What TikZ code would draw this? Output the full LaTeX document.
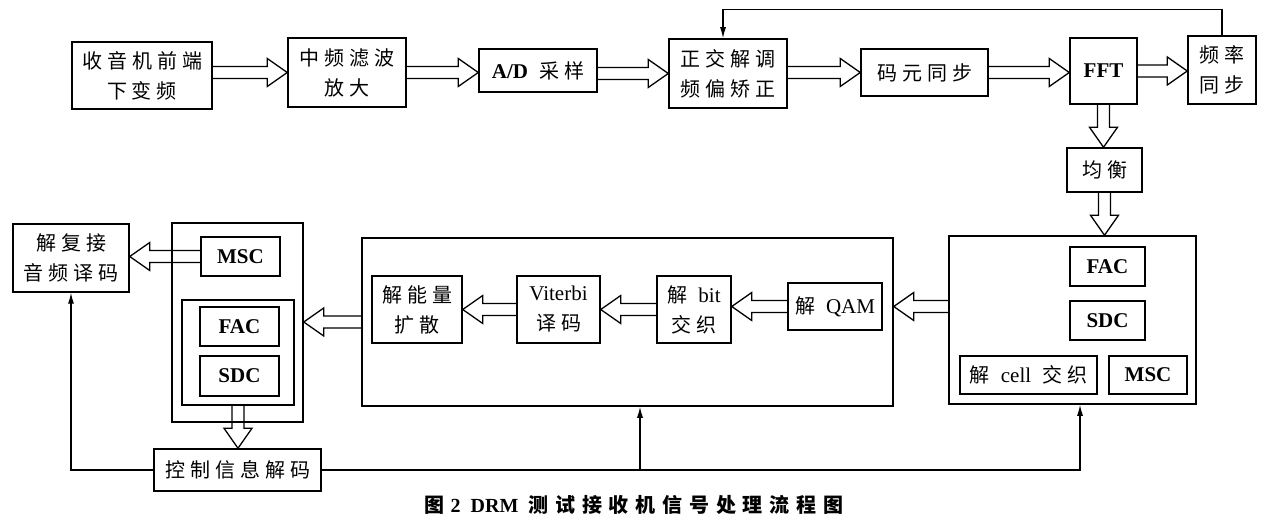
\documentclass[tikz,border=0pt]{standalone}
\usepackage{fontspec}
\setmainfont{Liberation Serif}
\newfontfamily\cjk[LetterSpace=25]{Noto Sans CJK SC}
\newfontfamily\cjkcap[LetterSpace=34]{Noto Sans CJK SC}
\usetikzlibrary{calc,arrows.meta}
\newcommand{\zh}[1]{{\cjk\fontsize{20}{30}\selectfont #1}}
\newcommand{\gap}{\hspace{11pt}}
\newcommand{\blockarrow}[2]{%
  \coordinate (ba-s) at (#1);
  \coordinate (ba-e) at (#2);
  \coordinate (ba-h) at ($(ba-e)!20pt!(ba-s)$);
  \draw[blockarr] ($(ba-s)!6pt!90:(ba-e)$) -- ($(ba-h)!6pt!-90:(ba-s)$)
    -- ($(ba-h)!14pt!-90:(ba-s)$) -- (ba-e) -- ($(ba-h)!14pt!90:(ba-s)$)
    -- ($(ba-h)!6pt!90:(ba-s)$) -- ($(ba-s)!6pt!-90:(ba-e)$);
}
\tikzset{
  box/.style={draw, line width=1.5pt, inner sep=0pt, align=center,
    font=\fontsize{21}{30}\selectfont},
  sz/.style 2 args={minimum width=#1pt, minimum height=#2pt},
  blockarr/.style={line width=1.3pt, line join=miter},
  conn/.style={line width=1.2pt, -{Latex[length=11pt,width=6pt]}},
}
\begin{document}
\begin{tikzpicture}[x=1pt,y=-1pt]
\useasboundingbox (0,0) rectangle (1266,529);
% top row
\node[box, sz={140}{67}] (n1) at (142,75.5) {\zh{收音机前端}\\\zh{下变频}};
\node[box, sz={118}{69}] (n2) at (347,72.5) {\zh{中频滤波}\\\zh{放大}};
\node[box, sz={118}{43}] (n3) at (538,70.5) {\textbf{A/D}\gap\zh{采样}};
\node[box, sz={118}{69}] (n4) at (728,73.5) {\zh{正交解调}\\\zh{频偏矫正}};
\node[box, sz={127}{47}] (n5) at (924.5,72.5) {\zh{码元同步}};
\node[box, sz={67}{66}] (n6) at (1103.5,71) {\textbf{FFT}};
\node[box, sz={68}{68}] (n7) at (1222,70) {\zh{频率}\\\zh{同步}};
\node[box, sz={75}{44}] (n8) at (1104.5,170) {\zh{均衡}};
% right group
\node[box, sz={247}{168}] (R) at (1072.5,320) {};
\node[box, sz={75}{39}] (rfac) at (1107.5,266.5) {\textbf{FAC}};
\node[box, sz={75}{39}] (rsdc) at (1107.5,320.5) {\textbf{SDC}};
\node[box, sz={137}{38}] (rcell) at (1028.5,375) {\zh{解}\gap cell\gap\zh{交织}};
\node[box, sz={78}{38}] (rmsc) at (1148,375) {\textbf{MSC}};
% middle group
\node[box, sz={531}{168}] (M) at (627.5,322) {};
\node[box, sz={90}{67}] (men) at (417,309.5) {\zh{解能量}\\\zh{扩散}};
\node[box, sz={83}{67}] (mvit) at (558.5,309.5) {Viterbi\\\zh{译码}};
\node[box, sz={74}{67}] (mbit) at (694,309.5) {\zh{解}\gap bit\\\zh{交织}};
\node[box, sz={94}{47}] (mqam) at (835,306.5) {\zh{解}\gap QAM};
% left group
\node[box, sz={131}{199}] (lout) at (237.5,322.5) {};
\node[box, sz={79}{39}] (lmsc) at (240.5,256.5) {\textbf{MSC}};
\node[box, sz={112}{105}] (lin) at (238,352.5) {};
\node[box, sz={79}{39}] (lfac) at (239.5,326.5) {\textbf{FAC}};
\node[box, sz={79}{40}] (lsdc) at (239.5,376) {\textbf{SDC}};
\node[box, sz={116}{68}] (fj) at (71,258) {\zh{解复接}\\\zh{音频译码}};
\node[box, sz={167}{42}] (ctrl) at (237.5,470) {\zh{控制信息解码}};
% caption
\node[font=\fontsize{20}{24}\selectfont\bfseries] (cap) at (634,505)
  {{\cjkcap 图}\hspace{6pt}2\hspace{10pt}DRM\hspace{10pt}{\cjkcap 测试接收机信号处理流程图}};
% block arrows
\blockarrow{n1.east |- n2.west}{n2.west}
\blockarrow{n2.east}{n2.east -| n3.west}
\blockarrow{n3.east |- n4.west}{n4.west}
\blockarrow{n4.east |- n5.west}{n5.west}
\blockarrow{n5.east}{n5.east -| n6.west}
\blockarrow{n6.east}{n6.east -| n7.west}
\blockarrow{n6.south}{n6.south |- n8.north}
\blockarrow{n8.south}{n8.south |- R.north}
\blockarrow{R.west |- mqam.east}{M.east |- mqam.east}
\blockarrow{mqam.west}{mqam.west -| mbit.east}
\blockarrow{mbit.west}{mvit.east}
\blockarrow{mvit.west}{men.east}
\blockarrow{M.west}{M.west -| lout.east}
\blockarrow{lmsc.west}{lmsc.west -| fj.east}
\blockarrow{lin.south}{lin.south |- ctrl.north}
% thin connectors
\draw[conn] (n7.north) -- ++(0,-26) -| ([xshift=-5pt]n4.north);
\draw[conn] (ctrl.west) -| (fj.south);
\draw[conn] (ctrl.east) -| ([xshift=7.5pt]R.south);
\coordinate (mtap) at ([xshift=12.5pt]M.south);
\draw[conn] (ctrl.east -| mtap) -- (mtap);
\end{tikzpicture}
\end{document}
